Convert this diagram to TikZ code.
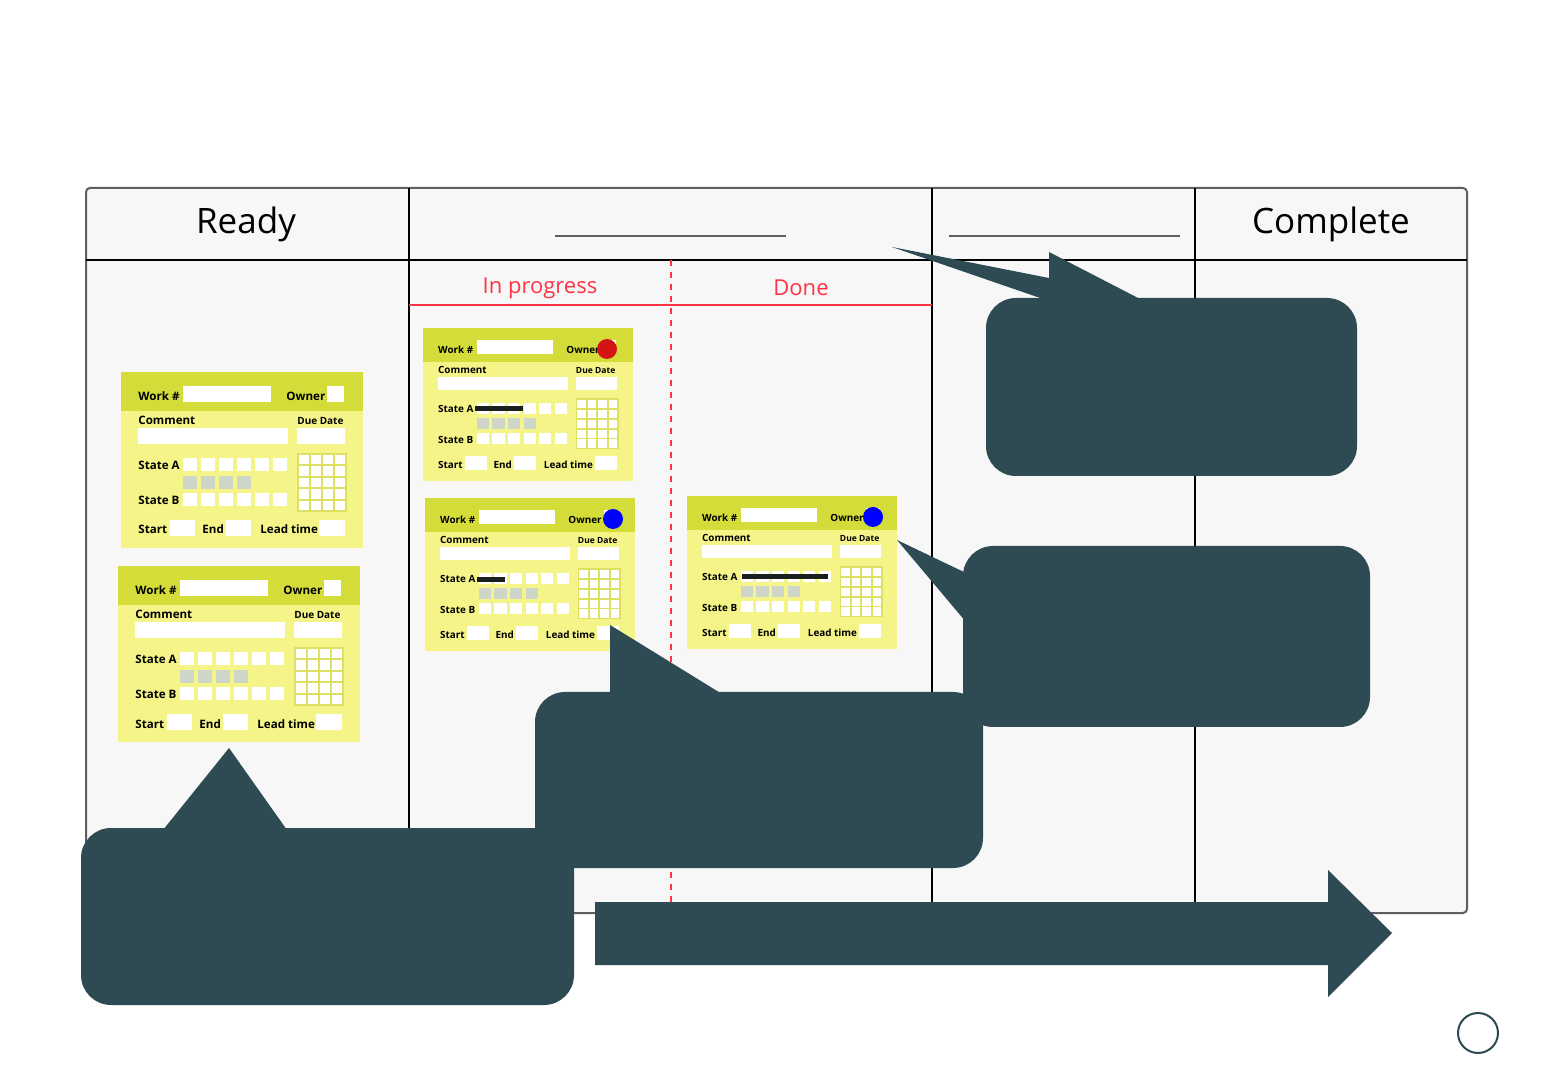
\documentclass[tikz,border=0pt]{standalone}
\usepackage{fontspec}
\setmainfont{Open Sans}
\usetikzlibrary{positioning}
\definecolor{boardbg}{RGB}{247,247,247}
\definecolor{boardedge}{RGB}{95,95,95}
\definecolor{cardhead}{RGB}{212,220,58}
\definecolor{cardbody}{RGB}{244,244,136}
\definecolor{gridline}{RGB}{222,224,100}
\definecolor{stateoff}{RGB}{205,214,200}
\definecolor{bubblefill}{RGB}{46,75,83}
\definecolor{lanered}{RGB}{255,51,68}
\definecolor{ownerred}{RGB}{210,20,20}
\definecolor{ownerblue}{RGB}{0,0,255}
\definecolor{strikeink}{RGB}{25,30,30}
\tikzset{
  cardpt/.code={\def\cardpt{#1}\pgfmathsetmacro\duept{0.86*#1}},
  cardpt=5.8,
  slot/.style={fill=white},
  lbl/.style={anchor=base west, inner sep=0pt, font=\fontsize{\cardpt pt}{\cardpt pt}\selectfont\bfseries},
  duelbl/.style={anchor=base west, inner sep=0pt, font=\fontsize{\duept pt}{\duept pt}\selectfont\bfseries},
  lane/.style={line width=1pt, black},
  headline/.style={line width=0.6pt, boardedge},
  lanehead/.style={font=\fontsize{17.5pt}{20pt}\selectfont},
  sublane/.style={font=\fontsize{11pt}{13pt}\selectfont, text=lanered},
  strike/.style={line width=2.5pt, strikeink},
  bubble/.style={fill=bubblefill},
  pics/card/.style={code={
    \fill[cardbody] (0,0) rectangle (242,176);
    \fill[cardhead] (0,0) rectangle (242,39);
    \fill[slot] (62,14) rectangle (150,30);
    \fill[slot] (206,14) rectangle (223,30);
    \fill[slot] (17,56) rectangle (167,72);
    \fill[slot] (176,56) rectangle (224,72);
    \foreach \i in {0,...,5} {
      \fill[slot] ({62+18*\i},86) rectangle ++(14,13);
      \fill[slot] ({62+18*\i},121) rectangle ++(14,13);
    }
    \foreach \i in {0,...,3}
      \fill[stateoff] ({62+18*\i},104) rectangle ++(14,13);
    \fill[gridline] (176,81) rectangle (226,140);
    \foreach \i in {0,...,3}
      \foreach \j in {0,...,4}
        \fill[slot] ({178+12*\i},{83+11.4*\j}) rectangle ++(10,9.4);
    \fill[slot] (49,148) rectangle (74,164);
    \fill[slot] (105,148) rectangle (130,164);
    \fill[slot] (198,148) rectangle (224,164);
    \node[lbl] (-work) at (17,29) {Work \#};
    \node[lbl] (-owner) at (165,29) {Owner};
    \node[lbl] (-comment) at (17,53) {Comment};
    \node[duelbl] (-due) at (176,53) {Due Date};
    \node[lbl] (-sa) at (17,98) {State A};
    \node[lbl] (-sb) at (17,133) {State B};
    \node[lbl] (-start) at (17,162) {Start};
    \node[lbl] (-end) at (81,162) {End};
    \node[lbl] (-lead) at (139,162) {Lead time};
  }}
}
\begin{document}
\begin{tikzpicture}[x=0.5pt, y=-0.5pt]
\fill[white] (0,0) rectangle (1560,1080);
\useasboundingbox (0,0) rectangle (1560,1080);
\draw[line width=1pt, boardedge, fill=boardbg, rounded corners=2pt] (86,188) rectangle (1467,913);
\draw[lane] (86,260) -- (1467,260);
\draw[lane] (409,188) -- (409,913);
\draw[lane] (932,188) -- (932,913);
\draw[lane] (1195,188) -- (1195,913);
\draw[headline] (555,236) -- (786,236);
\draw[headline] (949,236) -- (1180,236);
\draw[line width=1pt, lanered] (409,305) -- (932,305);
\draw[line width=1pt, lanered, dash pattern=on 3pt off 3pt] (671,260) -- (671,913);
\node[lanehead] (ready) at (246,224) {Ready};
\node[lanehead] (complete) at (1331,224) {Complete};
\node[sublane] (inprog) at (540,288) {In progress};
\node[sublane] (done) at (801,288) {Done};
\pic (c1) at (121,372) {card};
\pic (c2) at (118,566) {card};
\pic[scale=0.867, cardpt=4.95] (c3) at (423,328) {card};
\pic[scale=0.867, cardpt=4.95] (c4) at (425,498) {card};
\pic[scale=0.867, cardpt=4.95] (c5) at (687,496) {card};
\draw[strike] (475,409) -- (523,409);
\draw[strike] (477,580) -- (505,580);
\draw[strike] (742,577) -- (828,577);
\fill[ownerred] (607,349) circle (5pt);
\fill[ownerblue] (613,519) circle (5pt);
\fill[ownerblue] (873,517) circle (5pt);
\fill[bubble, rounded corners=15pt] (986,298) rectangle (1357,476);
\fill[bubble] (892,247) -- (1049,278) -- (1049,252) -- (1142,300) -- (1046,300) -- cycle;
\fill[bubble, rounded corners=15pt] (963,546) rectangle (1370,727);
\fill[bubble] (897,540) -- (966,573) -- (966,622) -- cycle;
\fill[bubble, rounded corners=15pt] (535,692) rectangle (983,868);
\fill[bubble] (610,625) -- (610,694) -- (722,694) -- cycle;
\fill[bubble, rounded corners=15pt] (81,828) rectangle (574,1005);
\fill[bubble] (229,748) -- (163,830) -- (287,830) -- cycle;
\fill[bubble] (595,902) -- (1328,902) -- (1328,870) -- (1392,933) -- (1328,997) -- (1328,965) -- (595,965) -- cycle;
\draw[bubblefill, line width=1pt] (1478,1033) circle (10pt);
\end{tikzpicture}
\end{document}
